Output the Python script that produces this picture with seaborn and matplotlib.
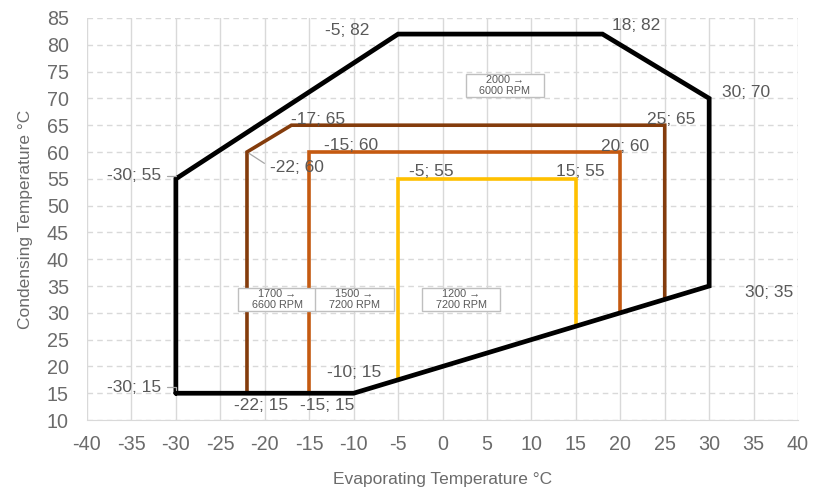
import matplotlib
matplotlib.use('Agg')
import matplotlib.pyplot as plt
from matplotlib.patches import Rectangle
import seaborn as sns

# envelope and speed limits (evaporating °C, condensing °C)
env_x = [-30, -30, -5, 18, 30, 30, -10, -30]
env_y = [15, 55, 82, 82, 70, 35, 15, 15]
r1700_x = [-22, -22, -17, 25, 25]
r1700_y = [15, 60, 65, 65, 32.5]
r1500_x = [-15, -15, 20, 20]
r1500_y = [15, 60, 60, 30]
r1200_x = [-5, -5, 15, 15]
r1200_y = [17.5, 55, 55, 27.5]

# point labels: (x, y, offset px)
point_labels = [
    (-5, 82, (-51, 4)), (18, 82, (34, 9)), (30, 70, (37, 6)), (30, 35, (60, -6)),
    (-17, 65, (27, 6)), (25, 65, (6, 6)), (-15, 60, (42, 7)), (20, 60, (5, 6)),
    (-5, 55, (33, 7)), (15, 55, (4, 7)), (-10, 15, (0, 21)),
    (-22, 15, (14, -12)), (-15, 15, (18, -12)),
]
leader_labels = [(-30, 55, (-42, 3)), (-30, 15, (-42, 6)), (-22, 60, (50, -15))]

box_text = ['2000 →\n6000 RPM', '1700 →\n6600 RPM', '1500 →\n7200 RPM', '1200 →\n7200 RPM']
box_x = [7, -18.6, -9.9, 2.1]
box_y = [72.4, 32.5, 32.5, 32.5]

sns.set_style('white')
plt.rcParams['font.family'] = ['Liberation Sans', 'DejaVu Sans']
plt.rcParams['axes.unicode_minus'] = False
grey = '#595959'
tgrey = '#6b6b6b'

fig = plt.figure(figsize=(8.16, 4.93), dpi=100)
ax = fig.add_axes([0.1066, 0.148, 0.8714, 0.8155])

for xs, ys, c in [(r1200_x, r1200_y, '#ffc000'), (r1500_x, r1500_y, '#c55a11'),
                  (r1700_x, r1700_y, '#843c0c')]:
    sns.lineplot(x=xs, y=ys, sort=False, estimator=None, color=c, lw=2.6, ax=ax)
sns.lineplot(x=env_x, y=env_y, sort=False, estimator=None, color='black', lw=3.4, ax=ax)
for l in ax.lines:
    l.set_solid_joinstyle('miter')

px = 0.72
for x, y, (dx, dy) in point_labels:
    ax.annotate(f'{x}; {y}', (x, y), xytext=(dx * px, dy * px), textcoords='offset points',
                ha='center', va='center', fontsize=12.5, color=grey)
for x, y, (dx, dy) in leader_labels:
    rel = (1, 0.5) if dx < 0 else (0, 0.5)
    cs = 'angle,angleA=0,angleB=90,rad=0' if dx < 0 else 'arc3'
    ax.annotate(f'{x}; {y}', (x, y), xytext=(dx * px, dy * px), textcoords='offset points',
                ha='center', va='center', fontsize=12.5, color=grey,
                arrowprops=dict(arrowstyle='-', color='#a6a6a6', lw=0.9, shrinkA=2, shrinkB=2,
                                relpos=rel, connectionstyle=cs))

for t, bx, by in zip(box_text, box_x, box_y):
    ax.add_patch(Rectangle((bx - 4.4, by - 2.2), 8.8, 4.4, facecolor='white',
                           edgecolor='#bfbfbf', lw=1, zorder=4))
    ax.text(bx, by, t, ha='center', va='center', fontsize=7.8, color=grey,
            linespacing=1.05, zorder=5)

ax.set_xlim(-40, 40)
ax.set_ylim(10, 85)
ax.set_xticks(range(-40, 41, 5))
ax.set_yticks(range(10, 86, 5))
ax.tick_params(length=0, labelsize=14.2, labelcolor=tgrey)
ax.tick_params(axis='x', pad=11)
ax.tick_params(axis='y', pad=13)
ax.xaxis.grid(True, color='#d9d9d9', lw=1)
ax.yaxis.grid(True, color='#d9d9d9', lw=1, ls=(0, (4, 3)))
ax.set_axisbelow(True)
for s in ['top', 'right', 'left']:
    ax.spines[s].set_visible(False)
ax.spines['bottom'].set_color('#d9d9d9')
ax.set_xlabel('Evaporating Temperature °C', fontsize=12.5, color=tgrey, labelpad=13)
ax.set_ylabel('Condensing Temperature °C', fontsize=12.5, color=tgrey, labelpad=10)

fig.savefig('out.png', dpi=100)
